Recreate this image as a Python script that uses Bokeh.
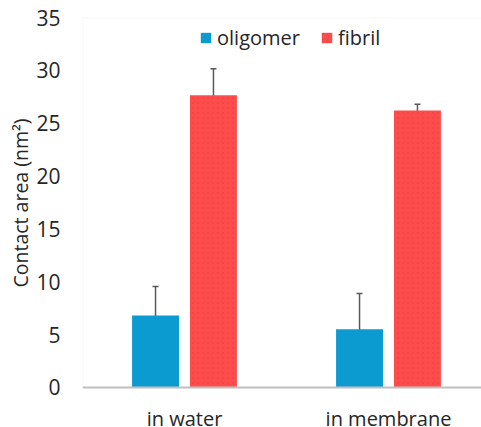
from bokeh.plotting import figure
from bokeh.models import (Range1d, ColumnDataSource, Whisker, TeeHead, Span,
                          FixedTicker, BoxAnnotation, Label, Title)
from bokeh.embed import file_html
from bokeh.resources import INLINE

# Contact area per environment, mean and error
conditions = ["in water", "in membrane"]
oligomer = [6.8, 5.5]
oligomer_err = [2.75, 3.4]
fibril = [27.65, 26.2]
fibril_err = [2.5, 0.6]
y_ticks = [0, 5, 10, 15, 20, 25, 30, 35]

FONT = "Open Sans"
BLUE = "#0b9bd0"
RED = "#fe4c4c"
TEXT = "#262626"

centers = [i + 0.5 for i in range(len(conditions))]
offset = 0.142
bar_w = 0.23

olig_x = [c - offset for c in centers]
fib_x = [c + offset for c in centers]

olig_src = ColumnDataSource(dict(
    x=olig_x, top=oligomer,
    upper=[v + e for v, e in zip(oligomer, oligomer_err)],
    lower=[v - e for v, e in zip(oligomer, oligomer_err)],
))
fib_src = ColumnDataSource(dict(
    x=fib_x, top=fibril,
    upper=[v + e for v, e in zip(fibril, fibril_err)],
    lower=[v - e for v, e in zip(fibril, fibril_err)],
))

# the frame reaches the bottom edge so the category names sit inside it
p = figure(width=481, height=427, output_backend="svg", toolbar_location=None,
           x_range=Range1d(0, 399 / 204), y_range=Range1d(-3.784, 35),
           min_border_left=82, min_border_right=0, min_border_top=17,
           min_border_bottom=0)
p.outline_line_color = None
p.xgrid.visible = False
p.ygrid.visible = False
p.xaxis.visible = False
p.background_fill_color = "white"
p.border_fill_color = "white"

# plot-area border (left and top sides show; right side lies past the edge)
p.add_layout(BoxAnnotation(left=0, right=5, bottom=0, top=35, fill_alpha=0,
                           line_color="#d9d9d9", line_width=1.5))

p.vbar(x="x", top="top", width=bar_w, source=olig_src, fill_color=BLUE,
       line_color=None, legend_label="oligomer")
p.vbar(x="x", top="top", width=bar_w, source=fib_src, fill_color=RED,
       line_color=None, hatch_pattern="dot", hatch_color="#c93a3a",
       hatch_alpha=0.22, hatch_scale=5, legend_label="fibril")

for src in (olig_src, fib_src):
    w = Whisker(base="x", upper="upper", lower="lower", source=src,
                line_color="#595959", line_width=1.5,
                upper_head=TeeHead(size=6, line_color="#595959", line_width=1.5),
                lower_head=TeeHead(size=6, line_color="#595959", line_width=1.5))
    p.add_layout(w)

# category axis line at zero
p.add_layout(Span(location=0, dimension="width", line_color="#bfbfbf", line_width=2))

for c, name in zip(centers, conditions):
    p.add_layout(Label(x=c, y=0, y_offset=-31, text=name, text_align="center",
                       text_baseline="alphabetic", text_font=FONT,
                       text_font_size="20px", text_color=TEXT))

# y axis
p.yaxis.bounds = (0, 35)
p.yaxis.ticker = FixedTicker(ticks=y_ticks)
p.yaxis.minor_tick_line_color = None
p.yaxis.major_tick_line_color = None
p.yaxis.major_tick_out = 0
p.yaxis.major_tick_in = 0
p.yaxis.axis_line_color = None
p.yaxis.major_label_text_font = FONT
p.yaxis.major_label_text_font_size = "21px"
p.yaxis.major_label_text_color = TEXT
p.yaxis.major_label_standoff = 22

# y title, starting part way up the frame so it sits beside the 0-35 span
p.add_layout(Title(text="Contact area (nm²)", align="left", offset=140,
                   standoff=0, text_font=FONT, text_font_size="19.5px",
                   text_font_style="normal", text_color=TEXT), "left")

# legend
p.legend.orientation = "horizontal"
p.legend.location = (117, 376)
p.legend.padding = 0
p.legend.margin = 0
p.legend.spacing = 20
p.legend.label_standoff = 5
p.legend.glyph_width = 13
p.legend.glyph_height = 13
p.legend.border_line_color = None
p.legend.background_fill_alpha = 0
p.legend.label_text_font = FONT
p.legend.label_text_font_size = "20px"
p.legend.label_text_color = TEXT

open("out.html", "w").write(file_html(p, INLINE))
